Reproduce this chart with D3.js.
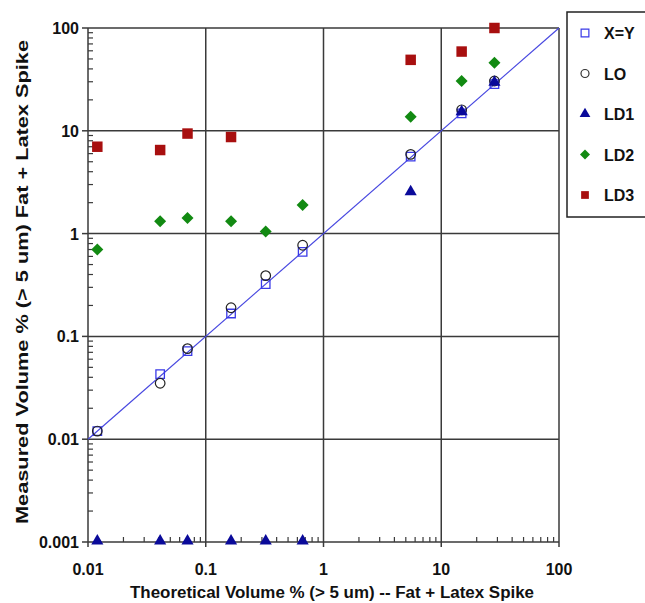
<!DOCTYPE html>
<html>
<head>
<meta charset="utf-8">
<script src="https://cdn.jsdelivr.net/npm/d3@7"></script>
<style>
  body { margin: 0; background: #fff; }
  text { font-family: "Liberation Sans Narrow", "Liberation Sans", Arial, sans-serif; font-weight: bold; fill: #111; }
</style>
</head>
<body>
<svg id="chart" width="645" height="603"></svg>
<script>
// theoretical volume % (x), same for all series
let theory = [0.012, 0.041, 0.07, 0.164, 0.323, 0.665, 5.5, 14.9, 28.3]
let xyVals = [0.012, 0.043, 0.072, 0.167, 0.322, 0.664, 5.6, 14.8, 28.5]
let loVals = [0.012, 0.035, 0.076, 0.19, 0.39, 0.77, 5.9, 16, 30.5]
let ld1Vals = [0.001, 0.001, 0.001, 0.001, 0.001, 0.001, 2.5, 15, 29]
let ld2Vals = [0.7, 1.32, 1.42, 1.32, 1.05, 1.9, 13.7, 30.5, 46]
let ld3Vals = [7.0, 6.5, 9.4, 8.7, null, null, 49, 59, 100]
let xTicks = [0.01, 0.1, 1, 10, 100]
let yTicks = [0.001, 0.01, 0.1, 1, 10, 100]
let tickLabels = { 0.001: '0.001', 0.01: '0.01', 0.1: '0.1', 1: '1', 10: '10', 100: '100' }
let seriesNames = ['X=Y', 'LO', 'LD1', 'LD2', 'LD3']

let margin = { left: 88, right: 86, top: 28, bottom: 61 }
let W = 645, H = 603
let svg = d3.select('#chart')

let xscale = d3.scaleLog().domain([0.01, 100]).range([margin.left, W - margin.right])
let yscale = d3.scaleLog().domain([0.001, 100]).range([H - margin.bottom, margin.top])

let gridColor = '#3a3a3a'

// grid lines
svg.append('g').selectAll('line').data(xTicks).join('line')
    .attr('x1', d => xscale(d)).attr('x2', d => xscale(d))
    .attr('y1', yscale(0.001)).attr('y2', yscale(100))
    .style('stroke', gridColor).style('stroke-width', 1.5)

svg.append('g').selectAll('line').data(yTicks).join('line')
    .attr('x1', xscale(0.01)).attr('x2', xscale(100))
    .attr('y1', d => yscale(d)).attr('y2', d => yscale(d))
    .style('stroke', gridColor).style('stroke-width', 1.5)

// minor ticks (inside) on left and bottom axes
let xMinor = xscale.ticks().filter(d => xTicks.indexOf(d) < 0)
let yMinor = yscale.ticks().filter(d => yTicks.indexOf(d) < 0)

svg.append('g').selectAll('line').data(xMinor).join('line')
    .attr('x1', d => xscale(d)).attr('x2', d => xscale(d))
    .attr('y1', yscale(0.001)).attr('y2', yscale(0.001) - 5)
    .style('stroke', gridColor).style('stroke-width', 1.2)

svg.append('g').selectAll('line').data(yMinor).join('line')
    .attr('x1', xscale(0.01)).attr('x2', xscale(0.01) + 5)
    .attr('y1', d => yscale(d)).attr('y2', d => yscale(d))
    .style('stroke', gridColor).style('stroke-width', 1.2)

// major ticks sticking out
svg.append('g').selectAll('line').data(xTicks).join('line')
    .attr('x1', d => xscale(d)).attr('x2', d => xscale(d))
    .attr('y1', yscale(0.001)).attr('y2', yscale(0.001) + 5)
    .style('stroke', gridColor).style('stroke-width', 1.5)

svg.append('g').selectAll('line').data(yTicks).join('line')
    .attr('x1', xscale(0.01) - 6).attr('x2', xscale(0.01))
    .attr('y1', d => yscale(d)).attr('y2', d => yscale(d))
    .style('stroke', gridColor).style('stroke-width', 1.5)

// tick labels
svg.append('g').selectAll('text').data(xTicks).join('text')
    .attr('x', d => xscale(d)).attr('y', yscale(0.001) + 33)
    .attr('text-anchor', 'middle')
    .style('font-size', '16px')
    .text(d => tickLabels[d])

svg.append('g').selectAll('text').data(yTicks).join('text')
    .attr('x', xscale(0.01) - 9).attr('y', d => yscale(d) + 6)
    .attr('text-anchor', 'end')
    .style('font-size', '16px')
    .text(d => tickLabels[d])

// axis titles
svg.append('text')
    .attr('x', 332).attr('y', 598)
    .attr('text-anchor', 'middle')
    .attr('textLength', 404).attr('lengthAdjust', 'spacingAndGlyphs')
    .style('font-size', '16px')
    .text('Theoretical Volume % (> 5 um) -- Fat + Latex Spike')

svg.append('text')
    .attr('transform', 'translate(28,282) rotate(-90)')
    .attr('text-anchor', 'middle')
    .attr('textLength', 484).attr('lengthAdjust', 'spacingAndGlyphs')
    .style('font-family', '"Liberation Sans", Arial, sans-serif')
    .style('font-size', '16px')
    .text('Measured Volume % (> 5 um) Fat + Latex Spike')

// x = y line
let line = d3.line().x(d => xscale(d)).y(d => yscale(d))
svg.append('path')
    .attr('d', line([0.01, 100]))
    .style('stroke', '#4848e0').style('stroke-width', 1.2).style('fill', 'none')

let sym = {
    square: d3.symbol().type(d3.symbolSquare),
    tri: d3.symbol().type(d3.symbolTriangle),
}

function pairs(vals) {
    let out = []
    vals.forEach((v, i) => { if (v != null) out.push({ x: theory[i], y: v }) })
    return out
}

// X=Y open squares
svg.append('g').selectAll('path').data(pairs(xyVals)).join('path')
    .attr('transform', d => `translate(${xscale(d.x)},${yscale(d.y)})`)
    .attr('d', sym.square.size(72)())
    .style('fill', 'none').style('stroke', '#3a3ae8').style('stroke-width', 1.3)

// LO open circles
svg.append('g').selectAll('circle').data(pairs(loVals)).join('circle')
    .attr('cx', d => xscale(d.x)).attr('cy', d => yscale(d.y)).attr('r', 4.8)
    .style('fill', 'none').style('stroke', '#222').style('stroke-width', 1.2)

// LD1 triangles
svg.append('g').selectAll('path').data(pairs(ld1Vals)).join('path')
    .attr('transform', d => `translate(${xscale(d.x)},${yscale(d.y) - 1})`)
    .attr('d', sym.tri.size(64)())
    .style('fill', '#0a0a9a')

// LD2 diamonds (rotated squares)
svg.append('g').selectAll('path').data(pairs(ld2Vals)).join('path')
    .attr('transform', d => `translate(${xscale(d.x)},${yscale(d.y)}) rotate(45)`)
    .attr('d', sym.square.size(72)())
    .style('fill', '#128a12')

// LD3 filled squares
svg.append('g').selectAll('path').data(pairs(ld3Vals)).join('path')
    .attr('transform', d => `translate(${xscale(d.x)},${yscale(d.y)})`)
    .attr('d', sym.square.size(110)())
    .style('fill', '#a80f0f')

// legend
let lg = svg.append('g')
lg.append('rect')
    .attr('x', 567).attr('y', 12).attr('width', 90).attr('height', 205)
    .style('fill', '#fff').style('stroke', '#222').style('stroke-width', 1.5)

let legendY = d3.scalePoint().domain(seriesNames).range([33, 195])
let legendSym = {
    'X=Y': { d: sym.square.size(60)(), fill: 'none', stroke: '#3a3ae8', rot: 0 },
    'LO': { d: null, fill: 'none', stroke: '#333', rot: 0 },
    'LD1': { d: sym.tri.size(50)(), fill: '#0a0a9a', stroke: 'none', rot: 0 },
    'LD2': { d: sym.square.size(50)(), fill: '#128a12', stroke: 'none', rot: 45 },
    'LD3': { d: sym.square.size(60)(), fill: '#a80f0f', stroke: 'none', rot: 0 },
}
seriesNames.forEach(n => {
    let s = legendSym[n]
    let cy = legendY(n)
    if (s.d) {
        lg.append('path').attr('transform', `translate(585,${cy}) rotate(${s.rot})`).attr('d', s.d)
            .style('fill', s.fill).style('stroke', s.stroke).style('stroke-width', 1.2)
    } else {
        lg.append('circle').attr('cx', 585).attr('cy', cy).attr('r', 4)
            .style('fill', 'none').style('stroke', s.stroke).style('stroke-width', 1.2)
    }
    lg.append('text').attr('x', 604).attr('y', cy + 6)
        .style('font-size', '16px')
        .text(n)
})
</script>
</body>
</html>
